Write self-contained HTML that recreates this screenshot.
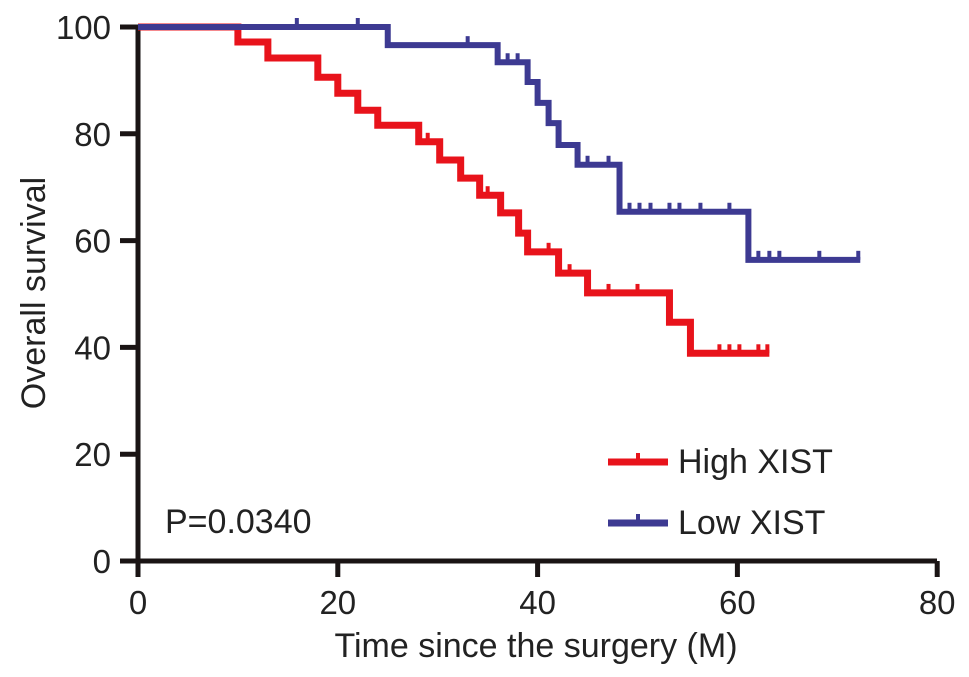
<!DOCTYPE html>
<html><head><meta charset="utf-8"><style>
body{margin:0;background:#fff;}
svg{display:block;font-family:"Liberation Sans",Arial,sans-serif;}
</style></head><body>
<svg id="chart" width="969" height="677" viewBox="0 0 969 677" xmlns="http://www.w3.org/2000/svg"></svg>
<script>
const xTicks=[0,20,40,60,80];
const yTicks=[0,20,40,60,80,100];
const highTimes=[0,10,13,18,20,22,24,28.1,30.2,32.3,34.2,36.3,38.1,39,42.1,45,53.2,55.3];
const highSurv=[100,97.2,94.2,90.6,87.6,84.4,81.6,78.5,75.1,71.7,68.5,65.2,61.4,57.9,53.9,50.2,44.7,38.9];
const highEnd=63.2;
const highCensor=[29,35,41.1,43.2,47.1,50,58.2,59.2,60.2,62.1,63];
const lowTimes=[0,25,36,39,40,41.1,42.1,44,48.2,61.1];
const lowSurv=[100,96.6,93.4,89.7,85.8,82,77.9,74.2,65.4,56.4];
const lowEnd=72.3;
const lowCensor=[15.9,22,33,37,38,45,47.1,49.2,50.2,51.3,53.2,54.2,56.3,59.2,62.1,63.2,64.2,68.2,72.1];

const svg=document.getElementById('chart');
const NS='http://www.w3.org/2000/svg';
const X=v=>138+v*9.99;
const Y=v=>561-v*5.34;
function mk(tag,attrs){const e=document.createElementNS(NS,tag);for(const k in attrs)e.setAttribute(k,attrs[k]);svg.appendChild(e);return e;}
function levelAt(times,surv,t){let s=surv[0];for(let i=0;i<times.length;i++)if(times[i]<=t)s=surv[i];return s;}
function drawSeries(times,surv,end,cens,color,name,w){
  let d='M'+X(times[0])+','+Y(surv[0]);
  for(let i=1;i<times.length;i++){d+=' H'+X(times[i])+' V'+Y(surv[i]);}
  d+=' H'+X(end);
  const p=mk('path',{d:d,fill:'none',stroke:color,'stroke-width':w,'stroke-linejoin':'miter'});
  
  
  cens.forEach(t=>{
    const y=Y(levelAt(times,surv,t));
    const c=mk('line',{x1:X(t),x2:X(t),y1:y,y2:y-9,stroke:color,'stroke-width':4});
    
    
  });
}
yTicks.forEach(v=>{
  const l=mk('line',{x1:120,x2:138,y1:Y(v),y2:Y(v),stroke:'#1a1414','stroke-width':5});
  
  
  const t=mk('text',{x:111,y:Y(v)+12,'text-anchor':'end','font-size':33,fill:'#222'});
  t.textContent=v;
  
  
});
xTicks.forEach(v=>{
  const l=mk('line',{x1:X(v),x2:X(v),y1:561,y2:577,stroke:'#1a1414','stroke-width':5});
  
  
  const t=mk('text',{x:X(v),y:614,'text-anchor':'middle','font-size':33,fill:'#222'});
  t.textContent=v;
  
  
});
const ax=mk('path',{d:'M138,27 V561 H937',fill:'none',stroke:'#1a1414','stroke-width':5});


const xt=mk('text',{x:536,y:657,'text-anchor':'middle','font-size':34,fill:'#222'});
xt.textContent='Time since the surgery (M)';


const yt=mk('text',{x:0,y:0,transform:'translate(45,293) rotate(-90)','text-anchor':'middle','font-size':34,fill:'#222'});
yt.textContent='Overall survival';


drawSeries(highTimes,highSurv,highEnd,highCensor,'#e8131b','high-xist',7);
drawSeries(lowTimes,lowSurv,lowEnd,lowCensor,'#3d3a92','low-xist',6);
[['High XIST','#e8131b',462,'legend-high'],['Low XIST','#3d3a92',523,'legend-low']].forEach(e=>{
  const l=mk('line',{x1:608,x2:668,y1:e[2],y2:e[2],stroke:e[1],'stroke-width':7});
  
  
  const m=mk('line',{x1:638,x2:638,y1:e[2],y2:e[2]-9,stroke:e[1],'stroke-width':4});
  
  
  const t=mk('text',{x:678,y:e[2]+11,'font-size':34,fill:'#222'});
  t.textContent=e[0];
  
  
});
const pv=mk('text',{x:165,y:533,'font-size':34,fill:'#222'});
pv.textContent='P=0.0340';


</script>
</body></html>
